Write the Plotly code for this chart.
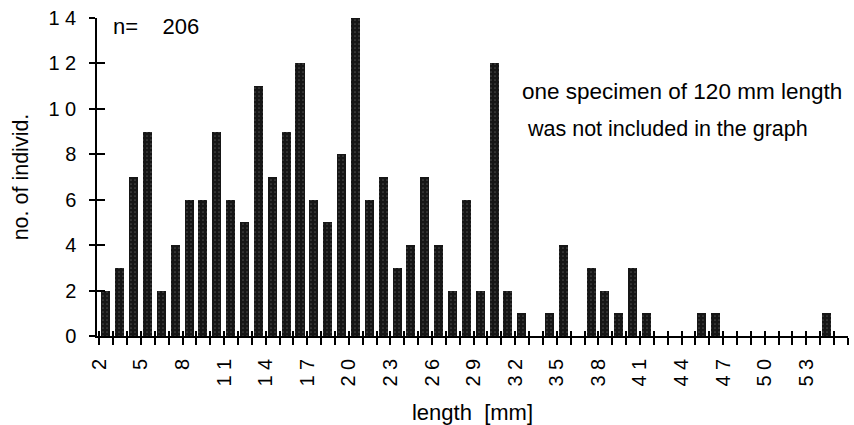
import plotly.graph_objects as go

# ---- data ----
lengths = list(range(2, 55))  # length class [mm]
counts = [2, 3, 7, 9, 2, 4, 6, 6, 9, 6, 5, 11, 7, 9, 12, 6, 5, 8, 14,
          6, 7, 3, 4, 7, 4, 2, 6, 2, 12,
          2, 1, 0, 1, 4, 0, 3, 2, 1, 3, 1,
          0, 0, 0, 1, 1,
          0, 0, 0, 0, 0, 0, 0, 1]
x_tick_vals = list(range(2, 57))
x_label_vals = list(range(2, 54, 3))
y_tick_vals = list(range(0, 15, 2))
n_total = 206

def spaced(v):
    return " ".join(str(v))

x_tick_text = [spaced(v) if v in x_label_vals else "" for v in x_tick_vals]
y_tick_text = [spaced(v) for v in y_tick_vals]

FONT = "Liberation Sans, Arial, sans-serif"
XR = [1.83, 56.01]
YR = [0, 14]

fig = go.Figure()
fig.add_trace(go.Bar(
    x=lengths, y=counts,
    width=0.65, offset=0.15,
    marker=dict(color="#1e1e1e", line=dict(width=0),
                pattern=dict(shape=".", fgcolor="#7a7a7a", bgcolor="#161616",
                             size=4, solidity=0.15)),
    hoverinfo="x+y", showlegend=False,
))
# invisible helper trace on the overlay axes (for the crossing tick marks)
fig.add_trace(go.Scatter(
    x=lengths, y=counts, xaxis="x2", yaxis="y2", mode="markers",
    marker=dict(opacity=0), hoverinfo="skip", showlegend=False,
))

axis_common = dict(showgrid=False, zeroline=False, tickcolor="black", automargin=False,
                   linecolor="black", tickfont=dict(family=FONT, size=20, color="black"))

fig.update_layout(
    width=854, height=425,
    margin=dict(l=97, r=6, t=18, b=89),
    paper_bgcolor="white", plot_bgcolor="white",
    bargap=0,
    font=dict(family=FONT, color="black"),
    xaxis=dict(
        **axis_common, range=XR, tickmode="array", tickvals=x_tick_vals,
        ticktext=x_tick_text, ticks="outside", ticklen=7, tickwidth=1.5,
        showline=True, linewidth=1.5, tickangle=-90, ticklabelstandoff=6,
        title=dict(text="length  [mm]", font=dict(family=FONT, size=22), standoff=20),
    ),
    yaxis=dict(
        **axis_common, range=YR, tickmode="array", tickvals=y_tick_vals,
        ticktext=y_tick_text, ticks="outside", ticklen=6, tickwidth=1.5,
        showline=True, linewidth=1.5, ticklabelstandoff=9,
        title=dict(text="no. of individ.", font=dict(family=FONT, size=21.5), standoff=14),
    ),
    xaxis2=dict(overlaying="x", anchor="y2", side="bottom", range=XR, automargin=False,
                tickmode="array", tickvals=x_tick_vals, ticks="inside", ticklen=5,
                tickwidth=1.5, tickcolor="black", showticklabels=False,
                showgrid=False, zeroline=False, showline=False),
    yaxis2=dict(overlaying="y", anchor="x2", side="left", range=YR, automargin=False,
                tickmode="array", tickvals=y_tick_vals, ticks="inside", ticklen=8,
                tickwidth=1.5, tickcolor="black", showticklabels=False,
                showgrid=False, zeroline=False, showline=False),
    annotations=[
        dict(text="n=\u00a0\u00a0\u00a0 " + str(n_total), xref="paper", yref="paper",
             x=0.018, y=0.972, xanchor="left", yanchor="middle", showarrow=False,
             font=dict(family=FONT, size=22, color="black")),
        dict(text="one specimen of 120 mm length", xref="paper", yref="paper",
             x=0.563, y=0.770, xanchor="left", yanchor="middle", showarrow=False,
             font=dict(family=FONT, size=22.5, color="black")),
        dict(text="was not included in the graph", xref="paper", yref="paper",
             x=0.570, y=0.652, xanchor="left", yanchor="middle", showarrow=False,
             font=dict(family=FONT, size=21.5, color="black")),
    ],
)

fig.write_html("out.html", config={"displayModeBar": False},
               post_script="document.body.style.margin='0';")
